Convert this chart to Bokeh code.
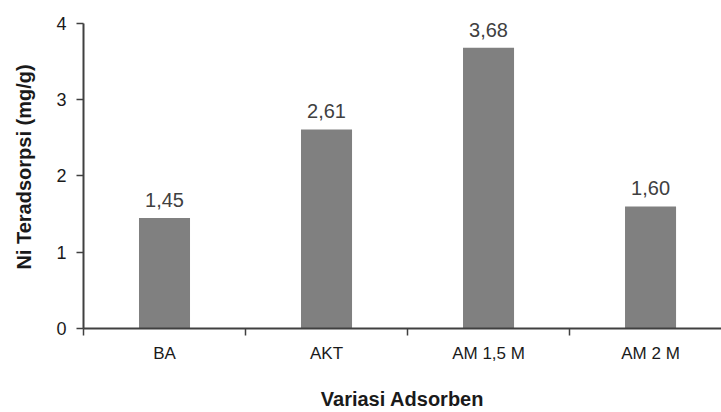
from bokeh.plotting import figure
from bokeh.models import Range1d, FixedTicker, ColumnDataSource
from bokeh.embed import file_html
from bokeh.resources import INLINE

categories = ["BA", "AKT", "AM 1,5 M", "AM 2 M"]
values = [1.45, 2.61, 3.68, 1.60]
value_labels = ["1,45", "2,61", "3,68", "1,60"]
y_ticks = [0, 1, 2, 3, 4]
x_title = "Variasi Adsorben"
y_title = "Ni Teradsorpsi (mg/g)"

FONT = "Liberation Sans"
AXIS_COLOR = "#404040"

xs = [i + 0.5 for i in range(len(categories))]
src = ColumnDataSource(dict(x=xs, top=values, lab=value_labels))

p = figure(width=721, height=412, output_backend="svg", toolbar_location=None,
           x_range=Range1d(0, 3.938), y_range=Range1d(0, 4.235),
           min_border_left=83, min_border_right=0, min_border_top=5, min_border_bottom=83)
p.outline_line_color = None
p.xgrid.grid_line_color = None
p.ygrid.grid_line_color = None

p.vbar(x="x", top="top", width=0.315, bottom=0, source=src,
       fill_color="#808080", line_color=None)
p.text(x="x", y="top", text="lab", source=src, text_align="center",
       text_baseline="alphabetic", y_offset=-18, text_font_size="20px",
       text_color="#404040", text_font={"value": FONT})

# x axis
xa = p.xaxis[0]
xa.ticker = FixedTicker(ticks=xs, minor_ticks=[float(i) for i in range(len(categories))])
xa.major_label_overrides = {x: c for x, c in zip(xs, categories)}
xa.major_tick_line_color = None
xa.major_tick_out = 0
xa.major_tick_in = 0
xa.minor_tick_line_color = AXIS_COLOR
xa.minor_tick_line_width = 1.5
xa.minor_tick_out = 7
xa.minor_tick_in = 0
xa.axis_line_color = AXIS_COLOR
xa.axis_line_width = 2
xa.major_label_text_font = FONT
xa.major_label_text_font_size = "17px"
xa.major_label_text_color = "#1a1a1a"
xa.major_label_standoff = 8
xa.axis_label = x_title
xa.axis_label_text_font = FONT
xa.axis_label_text_font_style = "bold"
xa.axis_label_text_font_size = "20px"
xa.axis_label_text_color = "#1a1a1a"
xa.axis_label_standoff = 22

# y axis
ya = p.yaxis[0]
ya.bounds = (0, 4)
ya.ticker = FixedTicker(ticks=y_ticks, minor_ticks=[])
ya.major_tick_line_color = AXIS_COLOR
ya.major_tick_line_width = 1.5
ya.major_tick_out = 7
ya.major_tick_in = 0
ya.minor_tick_line_color = None
ya.axis_line_color = AXIS_COLOR
ya.axis_line_width = 2
ya.major_label_text_font = FONT
ya.major_label_text_font_size = "18px"
ya.major_label_text_color = "#1a1a1a"
ya.major_label_standoff = 10
ya.axis_label = y_title
ya.axis_label_text_font = FONT
ya.axis_label_text_font_style = "bold"
ya.axis_label_text_font_size = "20px"
ya.axis_label_text_color = "#1a1a1a"
ya.axis_label_standoff = 18

open("out.html", "w").write(file_html(p, INLINE))
